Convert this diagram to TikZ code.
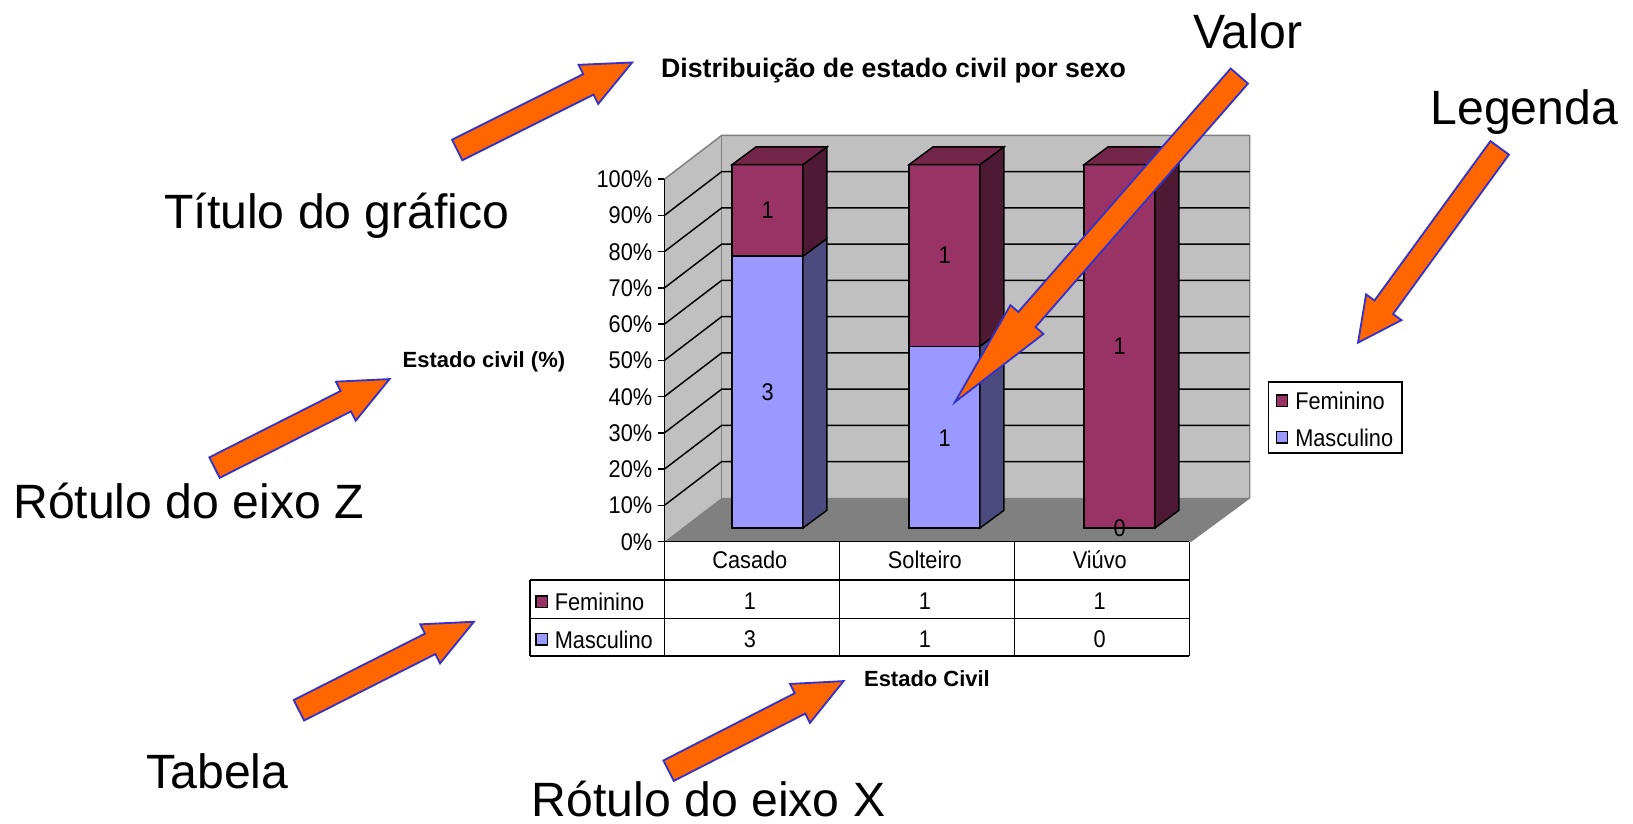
\documentclass[tikz,border=0pt]{standalone}
\usepackage{fontspec}
\setmainfont{Liberation Sans}
\newfontfamily\chartfont[FakeStretch=0.9]{Liberation Sans}
\usetikzlibrary{calc}

\definecolor{fem}{HTML}{993366}
\definecolor{femside}{HTML}{4D1933}
\definecolor{femtop}{HTML}{732649}
\definecolor{masc}{HTML}{9999FF}
\definecolor{mascside}{HTML}{4B4B80}
\definecolor{wallgray}{HTML}{C0C0C0}
\definecolor{floorgray}{HTML}{808080}
\definecolor{arrowfill}{HTML}{FF6600}
\definecolor{arrowline}{HTML}{3333CC}

\tikzset{
  biglabel/.style={font=\fontsize{13.15}{15}\selectfont, inner sep=0pt, text height=9.4pt, text depth=0pt},
  charttext/.style={font=\chartfont\fontsize{6.6}{8}\selectfont, inner sep=0pt, text height=4.7pt, text depth=0pt},
  boldtext/.style={font=\bfseries\fontsize{6}{7}\selectfont, inner sep=0pt, text height=4.3pt, text depth=0pt},
  callout/.style={fill=arrowfill, draw=arrowline, line width=0.5pt, line join=miter},
  barface/.style={draw=black, line width=0.4pt},
  keybox/.style={draw=black, line width=0.4pt, minimum size=0.11cm, inner sep=0pt},
}

% block arrow: tail #2, tip #3, head length #1
\newcommand{\callarrow}[3][0.47cm]{%
  \path ($(#3)!#1!(#2)$) coordinate (hb);
  \draw[callout] ($(#2)!0.11cm!90:(#3)$) -- ($(hb)!0.11cm!90:(#3)$)
    -- ($(hb)!0.21cm!90:(#3)$) -- (#3) -- ($(hb)!0.21cm!-90:(#3)$)
    -- ($(hb)!0.11cm!-90:(#3)$) -- ($(#2)!0.11cm!-90:(#3)$) -- cycle;}
% bar piece: left x, bottom y, top y, front, side
\newcommand{\barseg}[5]{%
  \draw[barface, fill=#4] (#1,#2) rectangle (#1+68,#3);
  \draw[barface, fill=#5] (#1+68,#2) -- ++(23,-17) -- (#1+91,#3-17) -- (#1+68,#3) -- cycle;}
\newcommand{\bartop}[1]{%
  \draw[barface, fill=femtop] (#1,158) -- ++(23,-17) -- ++(68,0) -- (#1+68,158) -- cycle;}

\begin{document}
\begin{tikzpicture}[x=0.01cm, y=-0.01cm]
    \useasboundingbox (0,0) rectangle (1568,791);
    %walls and floor
    \fill[wallgray] (638,172) -- (693,130) -- (693,478) -- (638,520) -- cycle;
    \fill[wallgray] (693,130) rectangle (1200,478);
    \fill[floorgray] (638,520) -- (693,478) -- (1200,478) -- (1143,520) -- cycle;
    \draw[floorgray] (638,172) -- (693,130) -- (1200,130) -- (1200,478) -- (1143,520);
    \draw[floorgray] (693,130) -- (693,478);
    %grid and value axis
    \foreach \k in {1,...,9}
        \draw (638,{520-34.8*\k}) -- (693,{478-34.8*\k}) -- (1200,{478-34.8*\k});
    \draw (638,172) -- (638,520);
    \foreach \k [evaluate=\k as \p using int(10*\k)] in {0,...,10}{
        \draw (632,{520-34.8*\k}) -- (638,{520-34.8*\k});
        \node[charttext, anchor=east] (tick\k) at (627,{520-34.8*\k}) {\p\%};
    }
    %bars
    \barseg{703}{507}{246}{masc}{mascside}
    \barseg{703}{246}{158}{fem}{femside}
    \bartop{703}
    \barseg{873}{507}{332.5}{masc}{mascside}
    \barseg{873}{332.5}{158}{fem}{femside}
    \bartop{873}
    \barseg{1041}{507}{158}{fem}{femside}
    \bartop{1041}
    \node[charttext] (cf) at (737,202) {1};
    \node[charttext] (cm) at (737,376) {3};
    \node[charttext] (sf) at (907,245) {1};
    \node[charttext] (sm) at (907,420) {1};
    \node[charttext] (vf) at (1075,332) {1};
    \node[charttext] (vm) at (1075,507) {0};
    %table
    \draw (632,520) -- (1142,520);
    \draw (509,557) -- (1142,557) (509,594) -- (1142,594) (509,630) -- (1142,630);
    \draw (509,557) -- (509,630);
    \foreach \x in {638,806,974,1142} \draw (\x,520) -- (\x,630);
    \node[charttext] (hc) at (720,538) {Casado};
    \node[charttext] (hs) at (888,538) {Solteiro};
    \node[charttext] (hv) at (1056,538) {Viúvo};
    \node[keybox, fill=fem] (kf) at (520,578) {};
    \node[keybox, fill=masc] (km) at (520,614) {};
    \node[charttext, anchor=west] (tf) at (532,578) {Feminino};
    \node[charttext, anchor=west] (tm) at (532,614) {Masculino};
    \foreach \c/\x/\f/\m in {c/720/1/3, s/888/1/1, v/1056/1/0}{
        \node[charttext] (f\c) at (\x,577) {\f};
        \node[charttext] (m\c) at (\x,613) {\m};
    }
    %legend
    \draw (1218,367) rectangle (1346,435);
    \node[keybox, fill=fem] (lkf) at (1231,385) {};
    \node[keybox, fill=masc] (lkm) at (1231,420) {};
    \node[charttext, anchor=west] (ltf) at (1243,385) {Feminino};
    \node[charttext, anchor=west] (ltm) at (1243,420) {Masculino};
    %chart titles
    \node[boldtext, font=\bfseries\fontsize{7.3}{9}\selectfont, text height=5.2pt, anchor=west] (ctitle) at (634,65) {Distribuição de estado civil por sexo};
    \node[boldtext, anchor=west] (zlab) at (386,345) {Estado civil (\%)};
    \node[boldtext, anchor=west] (xlab) at (829,652) {Estado Civil};
    %callouts
    \node[biglabel, anchor=west] (titulo) at (157,203) {Título do gráfico};
    \node[biglabel, anchor=west] (rotz) at (12,481) {Rótulo do eixo Z};
    \node[biglabel, anchor=west] (tabela) at (140,741) {Tabela};
    \node[biglabel, anchor=west] (rotx) at (510,767) {Rótulo do eixo X};
    \node[biglabel, anchor=west] (valor) at (1145,30) {Valor};
    \node[biglabel, anchor=west] (legenda) at (1373,103) {Legenda};
    \coordinate (t1) at (439,144); \coordinate (p1) at (607,60);
    \coordinate (t2) at (206,449); \coordinate (p2) at (374,364);
    \coordinate (t3) at (287,682); \coordinate (p3) at (455,597);
    \coordinate (t4) at (642,740); \coordinate (p4) at (810,654);
    \coordinate (t5) at (1440,142); \coordinate (p5) at (1304,329);
    \coordinate (t6) at (1190,73); \coordinate (p6) at (917,386);
    \callarrow{t1}{p1}
    \callarrow{t2}{p2}
    \callarrow{t3}{p3}
    \callarrow{t4}{p4}
    \callarrow[0.42cm]{t5}{p5}
    \callarrow[1.05cm]{t6}{p6}
\end{tikzpicture}
\end{document}
